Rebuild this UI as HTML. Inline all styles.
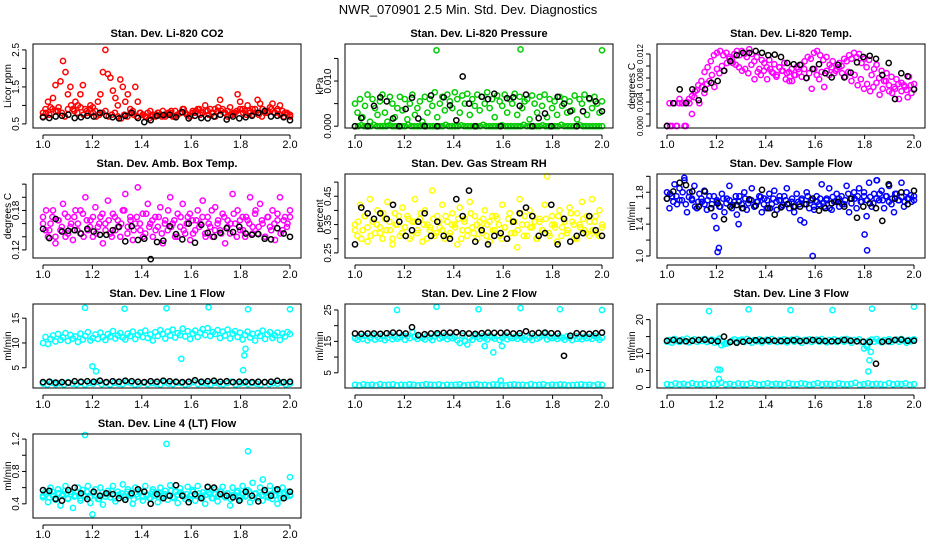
<!DOCTYPE html>
<html><head><meta charset="utf-8"><style>
html,body{margin:0;padding:0;background:#fff;}
svg{display:block;font-family:"Liberation Sans",sans-serif;}
</style></head><body>
<svg id="chart" width="936" height="540" viewBox="0 0 936 540" xmlns="http://www.w3.org/2000/svg">
<rect width="936" height="540" fill="#fff"/>
<text x="468" y="14" text-anchor="middle" font-size="13">NWR_070901  2.5 Min. Std. Dev. Diagnostics</text>
</svg>
<script>
const xTicks = [1.0,1.2,1.4,1.6,1.8,2.0];
const xTickLabels = ["1.0","1.2","1.4","1.6","1.8","2.0"];

const co2A = [0.8,0.9,1.1,0.95,1.2,1.55,0.85,1.65,2.2,1.9,1.3,1.5,0.9,1.1,1.0,1.3,1.55,0.9,0.8,1.0,0.95,0.85,1.1,1.3,1.9,2.5,1.85,1.75,1.4,1.2,1.0,1.7,1.5,1.1,1.3,0.9,0.85,1.5,1.1,0.8,0.75,0.7,0.8,0.85,0.75,0.7,0.8,0.75,0.85,0.7,0.75,0.8,0.7,0.85,0.75,0.8,0.9,0.8,0.75,0.7,0.85,0.8,0.9,0.75,0.8,1.0,0.85,0.9,0.8,0.7,0.85,1.15,0.9,0.8,0.85,0.95,0.75,0.8,1.3,1.1,0.9,0.85,1.0,0.8,0.75,0.9,1.15,1.05,0.9,0.85,0.8,0.95,1.05,0.8,0.9,1.0,0.85,0.8,0.75,0.7];
const co2B = [0.7,0.8,0.75,0.9,0.85,0.95,0.8,0.7,0.9,1.0,0.85,0.8,0.95,0.75,0.85,0.9,0.8,0.7,0.75,0.8,0.85,0.7,0.75,0.8,0.7,0.65,0.75,0.7,0.8,0.75,0.7,0.8,0.75,0.7,0.65,0.7,0.75,0.8,0.7,0.75,0.8,0.85,0.7,0.75,0.8,0.9,0.75,0.7,0.8,0.85,0.9,0.8,0.85,0.75,0.8,0.9,0.95,0.85,0.8,0.7,0.75,0.8,0.85,0.9,0.8,0.75,0.85,0.9,0.8,0.75,0.7,0.8,0.85,0.9,0.8,0.85,0.75,0.7,0.8,0.75];
const co2Black = [0.68,0.66,0.7,0.72,0.75,0.66,0.68,0.72,0.7,0.8,0.72,0.68,0.65,0.72,0.8,0.66,0.55,0.6,0.72,0.74,0.75,0.68,0.82,0.65,0.72,0.66,0.65,0.7,0.75,0.62,0.7,0.65,0.68,0.72,0.8,0.85,0.7,0.72,0.68,0.6];

const presA = [0.005,0.003,0.006,0.002,0.0045,0.007,0.001,0.006,0.004,0.0025,0.0055,0.007,0.003,0.001,0.0065,0.005,0.002,0.004,0.0065,0.0035,0.006,0.0015,0.005,0.007,0.0025,0.004,0.0055,0.001,0.0065,0.003,0.006,0.0045,0.0075,0.002,0.005,0.0065,0.0035,0.007,0.0055,0.004,0.0075,0.006,0.003,0.0068,0.005,0.0072,0.0025,0.006,0.0045,0.007,0.0035,0.0065,0.005,0.0075,0.004,0.006,0.002,0.0068,0.0055,0.0045,0.007,0.003,0.006,0.005,0.0072,0.0025,0.0065,0.004,0.0055,0.006,0.0015,0.0068,0.005,0.003,0.0065,0.0045,0.007,0.002,0.006,0.004,0.0055,0.0025,0.0065,0.0045,0.006,0.003,0.0055,0.0035,0.0068,0.0015,0.006,0.005,0.007,0.0025,0.006,0.004,0.0065,0.005,0.003,0.0055];
const presB = [0,0,0.0002,0,0,0,0.0003,0,0,0,0,0.0002,0,0,0,0,0,0.0003,0,0,0,0,0.0002,0,0,0,0,0,0,0.0003,0,0,0,0,0.0002,0,0,0,0,0,0,0.0003,0,0,0,0,0,0.0002,0,0,0,0,0,0,0.0003,0,0,0,0,0,0.0002,0,0,0,0,0,0.0003,0,0,0,0,0,0.0002,0,0,0,0,0,0,0];
const presOutX = [1.33,1.67,2.0];
const presOutY = [0.0168,0.017,0.0168];
const presBlack = [0,0.0018,0,0.0045,0.0064,0.0055,0.0017,0,0.0038,0.0063,0.0017,0,0.0068,0,0.0064,0.0046,0.0013,0.011,0.005,0,0.0065,0.006,0.0072,0,0.0062,0.0064,0.0045,0.007,0,0.0018,0.0028,0,0.0065,0.005,0.0033,0,0.0033,0.0062,0.0055,0.0033];

const tempA = [0,0.0038,0,0.0038,0,0.0045,0.0038,0,0.004,0.0038,0.002,0.0048,0.006,0.0038,0.0065,0.0055,0.007,0.0075,0.0085,0.0065,0.0095,0.0088,0.01,0.0092,0.0105,0.0115,0.011,0.012,0.0125,0.0118,0.0125,0.012,0.0115,0.0128,0.012,0.0108,0.0115,0.0095,0.011,0.0105,0.0098,0.011,0.009,0.0103,0.0085,0.0098,0.0092,0.0105,0.0088,0.0075,0.0095,0.0085,0.0098,0.009,0.0082,0.0095,0.008,0.0088,0.0062,0.0095,0.0085,0.0078,0.009,0.0065,0.0092,0.0085,0.0098,0.0088,0.0095,0.0105,0.01,0.0112,0.0108,0.0118,0.0112,0.0122,0.0115,0.012,0.0105,0.0112,0.0098,0.011,0.0085,0.0095,0.0102,0.008,0.0092,0.0075,0.0088,0.0058,0.0082,0.0065,0.0078,0.0045,0.0072,0.0068,0.006,0.0082,0.0055,0.007];
const tempB = [0,0,0.0038,0,0.0038,0.0038,0,0.0045,0.005,0.0058,0.0068,0.0075,0.009,0.0098,0.0108,0.0118,0.0122,0.0125,0.0118,0.0122,0.0112,0.0105,0.0102,0.0098,0.0092,0.0095,0.0088,0.0102,0.0078,0.009,0.0085,0.0092,0.0078,0.0095,0.0088,0.0082,0.0098,0.0092,0.0078,0.009,0.0075,0.0085,0.0095,0.0102,0.0108,0.0115,0.0112,0.0122,0.0125,0.0118,0.011,0.0115,0.0102,0.0108,0.0092,0.0098,0.0088,0.0082,0.009,0.0075,0.0085,0.0068,0.0078,0.0062,0.007,0.0058,0.0065,0.0072,0.0052,0.0062,0.0075,0.0068,0.0055,0.0062,0.007,0.0058,0.0065,0.0048,0.0068,0.0062];
const tempBlack = [0,0.0038,0.0061,0.0038,0.0061,0.0043,0.0061,0.0072,0.0075,0.0092,0.0108,0.0118,0.0122,0.0122,0.0125,0.0122,0.0118,0.0119,0.0115,0.0105,0.0103,0.0102,0.008,0.0095,0.0103,0.0088,0.0081,0.0102,0.0081,0.0089,0.0106,0.0115,0.0117,0.0112,0.0085,0.0105,0.0045,0.0088,0.0083,0.0061];

const ambA = [0.17,0.15,0.14,0.16,0.18,0.13,0.165,0.15,0.19,0.14,0.17,0.155,0.135,0.18,0.16,0.145,0.175,0.2,0.15,0.165,0.14,0.185,0.155,0.17,0.13,0.16,0.195,0.145,0.175,0.15,0.165,0.14,0.18,0.205,0.155,0.17,0.135,0.16,0.215,0.15,0.175,0.145,0.19,0.16,0.14,0.17,0.155,0.185,0.13,0.165,0.15,0.2,0.16,0.14,0.175,0.155,0.19,0.145,0.17,0.135,0.165,0.15,0.18,0.16,0.195,0.145,0.17,0.155,0.14,0.185,0.16,0.15,0.175,0.13,0.165,0.145,0.205,0.16,0.18,0.15,0.17,0.14,0.165,0.2,0.155,0.175,0.145,0.19,0.16,0.14,0.17,0.155,0.18,0.135,0.165,0.2,0.15,0.17,0.16,0.18];
const ambB = [0.16,0.18,0.15,0.17,0.14,0.165,0.155,0.175,0.145,0.16,0.17,0.15,0.18,0.14,0.165,0.155,0.17,0.145,0.16,0.175,0.15,0.165,0.14,0.17,0.155,0.16,0.18,0.145,0.165,0.15,0.17,0.16,0.14,0.175,0.155,0.165,0.15,0.17,0.145,0.16,0.18,0.155,0.165,0.14,0.17,0.15,0.16,0.175,0.145,0.165,0.155,0.17,0.14,0.16,0.18,0.15,0.165,0.145,0.17,0.155,0.16,0.175,0.14,0.165,0.15,0.17,0.16,0.145,0.18,0.155,0.165,0.14,0.17,0.15,0.16,0.175,0.145,0.165,0.155,0.17];
const ambBlack = [0.152,0.138,0.167,0.148,0.149,0.15,0.145,0.152,0.148,0.143,0.143,0.15,0.155,0.133,0.156,0.135,0.137,0.106,0.132,0.134,0.156,0.144,0.136,0.16,0.131,0.158,0.146,0.14,0.146,0.153,0.147,0.155,0.145,0.143,0.144,0.137,0.136,0.153,0.145,0.14];

const rhA = [0.35,0.31,0.42,0.33,0.38,0.29,0.44,0.36,0.32,0.4,0.34,0.3,0.37,0.43,0.33,0.28,0.39,0.35,0.31,0.41,0.34,0.38,0.3,0.36,0.44,0.32,0.37,0.29,0.4,0.35,0.33,0.47,0.31,0.38,0.34,0.42,0.3,0.36,0.32,0.39,0.35,0.28,0.41,0.33,0.37,0.31,0.43,0.34,0.38,0.3,0.36,0.32,0.4,0.35,0.29,0.38,0.33,0.37,0.31,0.42,0.34,0.3,0.39,0.36,0.32,0.27,0.44,0.35,0.38,0.31,0.4,0.34,0.36,0.3,0.37,0.33,0.42,0.52,0.31,0.38,0.35,0.29,0.4,0.34,0.37,0.32,0.41,0.36,0.3,0.39,0.35,0.43,0.33,0.38,0.31,0.44,0.36,0.32,0.4,0.34];
const rhB = [0.33,0.36,0.3,0.38,0.34,0.31,0.37,0.35,0.32,0.39,0.33,0.36,0.3,0.35,0.38,0.32,0.34,0.37,0.31,0.36,0.33,0.39,0.35,0.3,0.34,0.37,0.32,0.36,0.33,0.38,0.31,0.35,0.34,0.37,0.3,0.36,0.33,0.39,0.32,0.35,0.34,0.37,0.31,0.36,0.33,0.38,0.35,0.3,0.34,0.37,0.32,0.36,0.33,0.39,0.31,0.35,0.34,0.38,0.3,0.36,0.33,0.37,0.32,0.35,0.34,0.38,0.31,0.36,0.33,0.39,0.35,0.3,0.34,0.37,0.32,0.36,0.33,0.38,0.31,0.35];
const rhBlack = [0.28,0.41,0.39,0.37,0.39,0.37,0.42,0.36,0.31,0.33,0.36,0.39,0.31,0.36,0.31,0.3,0.44,0.38,0.47,0.29,0.33,0.28,0.31,0.32,0.3,0.36,0.39,0.41,0.38,0.31,0.32,0.42,0.28,0.37,0.29,0.31,0.32,0.38,0.33,0.31];

const flowA = [1.8,1.6,1.75,1.9,1.65,1.85,1.7,1.95,1.55,1.8,1.72,1.88,1.6,1.78,1.68,1.82,1.58,1.75,1.65,1.5,1.7,1.62,1.78,1.55,1.72,1.88,1.6,1.68,1.52,1.75,1.65,1.8,1.58,1.7,1.85,1.62,1.68,1.75,1.55,1.72,1.6,1.78,1.65,1.82,1.58,1.7,1.62,1.75,1.85,1.6,1.68,1.55,1.78,1.65,1.72,1.42,1.8,1.6,1.7,1.58,1.75,1.65,1.9,1.62,1.72,1.85,1.58,1.68,1.78,1.62,1.75,1.65,1.88,1.55,1.72,1.8,1.6,1.85,1.68,1.75,1.5,1.92,1.62,1.78,1.95,1.7,1.82,1.6,1.75,1.88,1.65,1.55,1.78,1.7,1.92,1.62,1.8,1.72,1.68,1.75];
const flowB = [1.72,1.78,1.68,1.75,1.7,1.8,1.65,1.74,1.7,1.62,1.68,1.72,1.65,1.7,1.6,1.75,1.68,1.62,1.72,1.66,1.7,1.64,1.75,1.68,1.6,1.72,1.66,1.7,1.62,1.68,1.74,1.65,1.7,1.6,1.72,1.68,1.75,1.64,1.7,1.66,1.72,1.62,1.68,1.7,1.65,1.75,1.7,1.62,1.68,1.72,1.66,1.7,1.6,1.74,1.68,1.72,1.65,1.7,1.78,1.66,1.72,1.75,1.68,1.8,1.7,1.74,1.66,1.72,1.78,1.7,1.75,1.68,1.72,1.78,1.7,1.74,1.68,1.72,1.76,1.7];
const flowOutX = [1.2,1.205,1.21,1.29,1.54,1.59,1.8,1.81,1.07,1.85];
const flowOutY = [1.35,1.05,1.1,1.4,1.45,1.0,1.27,1.07,1.98,1.95];
const flowBlack = [1.72,1.81,1.92,1.89,1.81,1.62,1.81,1.6,1.66,1.46,1.62,1.64,1.6,1.71,1.63,1.83,1.6,1.52,1.61,1.65,1.62,1.62,1.65,1.72,1.57,1.6,1.66,1.68,1.62,1.72,1.48,1.62,1.66,1.6,1.44,1.9,1.72,1.8,1.65,1.82];

const l1A = [10,11.2,9.8,10.8,11.5,10.3,11.8,10.6,11.1,12,10.4,11.6,10.9,11.3,10.2,11.9,10.7,11.4,12.2,10.5,11,11.7,10.8,12.1,11.2,10.6,11.8,11.3,12.4,10.9,11.5,12,11.1,10.7,11.9,11.4,12.3,10.8,11.6,12.1,11.2,12.5,11,11.7,10.5,12.2,11.4,12.6,11.8,10.9,12.3,11.5,12.7,11.1,12,11.6,12.9,11.3,12.4,10.8,11.9,12.5,11.2,12.1,12.8,11.6,13,11.4,12.2,11.8,12.6,11,12.3,11.5,12.7,10.9,11.9,12.4,11.2,12.1,10.7,11.6,12.3,11.1,11.8,10.5,12,11.4,12.5,10.8,11.7,12.2,11,11.5,12.1,10.6,11.9,11.3,12.2,11.8];
const l1B = [1.8,1.6,2,1.7,1.9,1.6,2.1,1.8,1.7,2,1.6,1.9,1.8,2.2,1.7,1.9,1.6,2,1.8,1.7,2.1,1.9,1.6,1.8,2,1.7,1.9,1.8,1.6,2.1,1.8,1.7,2,1.9,1.6,1.8,2.1,1.7,1.9,1.8,1.6,2,1.8,1.7,1.9,2.2,1.6,1.8,2,1.7,1.9,1.8,1.6,2.1,1.7,1.9,1.8,2,1.6,1.8];
const l1OutX = [1.17,1.33,1.5,1.67,1.83,2.0,1.2,1.215,1.56,1.81,1.815,1.82];
const l1OutY = [17.1,16.9,17,17.2,16.8,16.8,5.3,4.3,6.8,4.5,7.5,8.8];
const l1Black = [2.1,2.2,2,2.1,2,2.3,2.2,2.3,2.2,2.4,2.1,2.3,2.2,2.4,2.3,2.2,2.1,2.3,2.2,2.4,2.3,2.2,2.1,2.2,2.5,2.2,2.3,2.4,2.2,2.3,2.1,2.2,2.2,2.1,2.2,2.1,2.2,2.4,2.1,2.2];

const l2A = [16,15.5,16.5,15.8,16.8,15.3,16.2,17,15.6,16.4,15.9,16.7,15.4,16.1,17.2,15.7,16.5,15.9,16.3,16.9,15.5,16.6,16,18,16.4,15.8,16.7,16.1,15.6,16.9,16.2,15.4,16.6,17.1,15.9,16.3,16.8,15.7,16.5,16,16.4,15.3,14.5,16.8,15.1,14,16.2,15.5,16.9,16.4,15.8,16.6,16.1,15.6,16.8,16.3,15.9,16.7,15.4,16.2,16.9,15.7,16.5,16,16.4,15.8,16.7,16.1,15.5,16.6,16.2,15.4,16.8,15.9,16.3,16.9,17.5,15.6,16.5,16,16.4,15.8,16.7,16.1,15.5,16.6,16.2,15.4,16.8,15.9,16.3,15.7,16.5,16,16.4,15.8,16.7,16.1,15.5,16.2];
const l2B = [1.2,1,1.3,1.1,1.2,1,1.4,1.1,1.2,1.3,1,1.2,1.1,1.3,1.2,1,1.1,1.4,1.2,1.1,1.3,1,1.2,1.1,1.2,1.3,1,1.1,1.2,1.4,1.1,1.2,1,1.3,1.2,1.1,1,1.2,1.3,1.1,1.2,1,1.4,1.1,1.2,1.3,1,1.2,1.1,1.3,1.2,1,1.1,1.2,1.3,1.1,1.2,1,1.3,1.2];
const l2OutX = [1.17,1.33,1.5,1.67,1.83,2.0,1.56,1.595,1.525,1.59];
const l2OutY = [25,26,25.2,25.6,25.2,25,11.5,13.5,13.5,2.5];
const l2Black = [17.5,17.4,17.5,17.5,17.4,17.6,17.8,17.7,17.5,19.5,17,17.3,17.5,17.6,17.7,17.8,17.9,17.6,17.5,17.4,17.6,17.8,17.7,17.7,17.8,17.5,17.6,18.2,17.5,17.7,17.8,17.6,17.5,10.4,16.8,17.6,17.5,17.4,17.6,17.8];

const l3A = [13.5,14,13.2,14.3,13.8,13.4,14.1,13.6,14.4,13.3,13.9,14.2,13.5,14,13.7,14.3,13.4,13.8,14.1,13.2,13.9,14.4,13.6,12.8,13,13.3,13.8,14.2,13.5,13.9,14.1,13.4,14.3,13.7,13.2,14,13.6,14.2,13.3,13.8,14.1,13.5,14.3,13.7,13.4,14,13.6,14.2,13.3,13.9,14.1,13.5,14.3,13.8,13.2,14,13.6,14.2,13.4,13.9,14.1,13.5,14.3,13.7,13.3,14,13.6,14.2,13.4,13.8,14.1,13.5,14.3,13.9,13.2,14,13.6,14.2,13.4,11.5,12.5,13.8,14.1,13.5,14.3,13.7,13.3,14,13.6,14.2,13.4,13.9,14.1,13.5,14.3,13.8,13.2,14,13.6,14.2];
const l3B = [1,0.8,1.2,0.9,1.1,0.8,1.3,1,0.9,1.2,0.8,1.1,1,1.4,0.9,1.1,0.8,1.2,1,0.9,1.3,1.1,0.8,1,1.2,0.9,1.1,1,0.8,1.3,1,0.9,1.2,1.1,0.8,1,1.3,0.9,1.1,1,0.8,1.2,1,0.9,1.1,1.4,0.8,1,1.2,0.9,1.1,1,0.8,1.3,0.9,1.1,1,1.2,0.8,1];
const l3OutX = [1.17,1.33,1.5,1.67,1.83,2.0,1.205,1.215,1.21,1.22,1.81,1.82,1.825,1.815];
const l3OutY = [22.5,23,22.8,22.8,23.2,23.8,5.3,5.2,2.5,12.5,12,8,10.5,4.7];
const l3Black = [13.8,14,13.8,13.6,13.8,14,14.1,13.8,13.6,15,13.4,13.2,13.5,13.8,13.9,13.8,13.9,13.8,13.7,13.8,13.9,13.7,13.8,14,13.8,13.7,13.6,13.7,14,13.8,13.6,13.5,13.4,7,13.5,13.6,14,14.1,13.8,13.8];

const l4A = [0.48,0.55,0.42,0.6,0.5,0.45,0.58,0.38,0.52,0.62,0.47,0.55,0.35,0.5,0.6,0.44,0.57,0.49,0.62,0.41,0.53,0.58,0.46,0.6,0.39,0.52,0.56,0.48,0.62,0.43,0.55,0.5,0.64,0.45,0.58,0.52,0.4,0.6,0.49,0.56,0.44,0.62,0.51,0.47,0.58,0.54,0.42,0.6,0.5,0.56,0.45,0.63,0.48,0.55,0.41,0.59,0.52,0.46,0.61,0.5,0.57,0.44,0.62,0.49,0.54,0.4,0.6,0.52,0.47,0.58,0.43,0.55,0.61,0.48,0.53,0.38,0.6,0.5,0.56,0.45,0.62,0.49,0.57,0.42,0.66,0.52,0.47,0.6,0.44,0.55,0.5,0.62,0.46,0.57,0.4,0.53,0.6,0.48,0.55,0.5];
const l4B = [0.5,0.52,0.48,0.55,0.47,0.53,0.5,0.56,0.46,0.52,0.49,0.54,0.47,0.51,0.55,0.48,0.53,0.5,0.46,0.54,0.49,0.52,0.56,0.47,0.51,0.53,0.48,0.55,0.5,0.46,0.52,0.54,0.49,0.51,0.47,0.55,0.5,0.53,0.48,0.52,0.5,0.56,0.47,0.51,0.54,0.49,0.52,0.46,0.55,0.5,0.53,0.48,0.51,0.54,0.47,0.52,0.5,0.55,0.49,0.53,0.46,0.51,0.54,0.48,0.52,0.5,0.55,0.47,0.53,0.49,0.51,0.54,0.48,0.52,0.5,0.56,0.47,0.53,0.49,0.51];
const l4OutX = [1.17,1.5,1.83,1.2,2.0,1.89];
const l4OutY = [1.25,1.14,1.05,0.27,0.73,0.7];
const l4Black = [0.57,0.56,0.46,0.44,0.57,0.6,0.53,0.46,0.55,0.5,0.53,0.52,0.47,0.45,0.53,0.58,0.55,0.4,0.52,0.47,0.5,0.63,0.5,0.42,0.52,0.47,0.61,0.6,0.52,0.5,0.48,0.44,0.55,0.5,0.43,0.57,0.5,0.58,0.47,0.55];

const panels = [
 {name:"co2",title:"Stan. Dev. Li-820 CO2",ylab:"Licor ppm",col:0,row:0,ymin:0.39,ymax:2.66,ticks:[0.5,1,1.5,2,2.5],labels:{"0.5":"0.5","1.5":"1.5","2.5":"2.5"},color:"#ff0000",A:co2A,B:co2B,ox:[],oy:[],K:co2Black,fs:10},
 {name:"pressure",title:"Stan. Dev. Li-820 Pressure",ylab:"kPa",col:1,row:0,ymin:-0.0004,ymax:0.0182,ticks:[0,0.005,0.01,0.015],labels:{"0":"0.000","0.01":"0.010"},color:"#00cc00",A:presA,B:presB,ox:presOutX,oy:presOutY,K:presBlack,fs:10},
 {name:"temp",title:"Stan. Dev. Li-820 Temp.",ylab:"degrees C",col:2,row:0,ymin:-0.00033,ymax:0.01367,ticks:[0,0.002,0.004,0.006,0.008,0.01,0.012],labels:{"0":"0.000","0.004":"0.004","0.008":"0.008","0.012":"0.012"},color:"#ff00ff",A:tempA,B:tempB,ox:[],oy:[],K:tempBlack,fs:8},
 {name:"amb-box-temp",title:"Stan. Dev. Amb. Box Temp.",ylab:"degrees C",col:0,row:1,ymin:0.1077,ymax:0.2354,ticks:[0.12,0.14,0.16,0.18,0.2,0.22],labels:{"0.12":"0.12","0.18":"0.18"},color:"#ff00ff",A:ambA,B:ambB,ox:[],oy:[],K:ambBlack,fs:10},
 {name:"gas-stream-rh",title:"Stan. Dev. Gas Stream RH",ylab:"percent",col:1,row:1,ymin:0.232,ymax:0.5286,ticks:[0.25,0.3,0.35,0.4,0.45,0.5],labels:{"0.25":"0.25","0.35":"0.35","0.45":"0.45"},color:"#ffff00",A:rhA,B:rhB,ox:[],oy:[],K:rhBlack,fs:10},
 {name:"sample-flow",title:"Stan. Dev. Sample Flow",ylab:"ml/min",col:2,row:1,ymin:0.975,ymax:2.029,ticks:[1,1.2,1.4,1.6,1.8,2],labels:{"1":"1.0","1.4":"1.4","1.8":"1.8"},color:"#0000ff",A:flowA,B:flowB,ox:flowOutX,oy:flowOutY,K:flowBlack,fs:10},
 {name:"line1-flow",title:"Stan. Dev. Line 1 Flow",ylab:"ml/min",col:0,row:2,ymin:0.92,ymax:17.86,ticks:[5,10,15],labels:{"5":"5","10":"10","15":"15"},color:"#00ffff",A:l1A,B:l1B,ox:l1OutX,oy:l1OutY,K:l1Black,fs:10},
 {name:"line2-flow",title:"Stan. Dev. Line 2 Flow",ylab:"ml/min",col:1,row:2,ymin:0.16,ymax:26.9,ticks:[5,10,15,20,25],labels:{"5":"5","15":"15","25":"25"},color:"#00ffff",A:l2A,B:l2B,ox:l2OutX,oy:l2OutY,K:l2Black,fs:10},
 {name:"line3-flow",title:"Stan. Dev. Line 3 Flow",ylab:"ml/min",col:2,row:2,ymin:-0.15,ymax:24.6,ticks:[0,5,10,15,20],labels:{"0":"0","5":"5","10":"10","20":"20"},color:"#00ffff",A:l3A,B:l3B,ox:l3OutX,oy:l3OutY,K:l3Black,fs:10},
 {name:"line4-flow",title:"Stan. Dev. Line 4 (LT) Flow",ylab:"ml/min",col:0,row:3,ymin:0.225,ymax:1.2625,ticks:[0.4,0.6,0.8,1.0,1.2],labels:{"0.4":"0.4","0.8":"0.8","1.2":"1.2"},color:"#00ffff",A:l4A,B:l4B,ox:l4OutX,oy:l4OutY,K:l4Black,fs:10}
];

const NS="http://www.w3.org/2000/svg";
const svg=document.getElementById('chart');
function mk(tag,attrs,parent){const e=document.createElementNS(NS,tag);for(const k in attrs)e.setAttribute(k,attrs[k]);parent.appendChild(e);return e;}

panels.forEach(p=>{
  const L=33+p.col*312, R=L+268, T=44+p.row*130, B=T+84;
  const xs=v=>L+10+(v-1)*247;
  const ys=v=>B-(v-p.ymin)/(p.ymax-p.ymin)*(B-T);
  const g=mk('g',{},svg);
  
  
  const t=mk('text',{x:(L+R)/2,y:T-7,'text-anchor':'middle','font-size':'11','font-weight':'bold'},g);
  t.textContent=p.title;
  
  
  const pts=mk('g',{fill:'none','stroke-width':'1.5'},g);
  
  
  function plot(arr,xsArr,color,nm){
    arr.forEach((v,i)=>{
      const xv = xsArr ? xsArr[i] : 1+i/(arr.length-1);
      const c=mk('circle',{cx:xs(xv).toFixed(1),cy:ys(v).toFixed(1),r:'2.6',stroke:color},pts);
      
      
    });
  }
  plot(p.B,null,p.color,'point-'+p.name);
  plot(p.A,null,p.color,'point-'+p.name);
  plot(p.oy,p.ox,p.color,'outlier-'+p.name);
  plot(p.K,null,'#000','black-point-'+p.name);
  const box=mk('rect',{x:L,y:T,width:R-L,height:B-T,fill:'none',stroke:'#000','stroke-width':'1'},g);
  
  
  mk('line',{x1:xs(1),x2:xs(2),y1:B+7,y2:B+7,stroke:'#000'},g);
  xTicks.forEach((v,i)=>{
    mk('line',{x1:xs(v),x2:xs(v),y1:B+7,y2:B+11,stroke:'#000'},g);
    const tl=mk('text',{x:xs(v),y:B+20,'text-anchor':'middle','font-size':'11'},g);
    tl.textContent=xTickLabels[i];
    
    
  });
  const yt=p.ticks.filter(v=>ys(v)>=T-2&&ys(v)<=B+2);
  mk('line',{x1:L-7,x2:L-7,y1:ys(yt[0]),y2:ys(yt[yt.length-1]),stroke:'#000'},g);
  yt.forEach(v=>{
    const y=ys(v);
    mk('line',{x1:L-11,x2:L-7,y1:y,y2:y,stroke:'#000'},g);
    const lab=p.labels[String(v)];
    if(lab){
      const tl=mk('text',{x:L-14,y:y,'text-anchor':'middle','font-size':p.fs,transform:`rotate(-90 ${L-14} ${y})`},g);
      tl.textContent=lab;
      
      
    }
  });
  const yl=mk('text',{x:L-22,y:(T+B)/2,'text-anchor':'middle','font-size':'10',transform:`rotate(-90 ${L-22} ${(T+B)/2})`},g);
  yl.textContent=p.ylab;
  
  
});
</script>
</body></html>
